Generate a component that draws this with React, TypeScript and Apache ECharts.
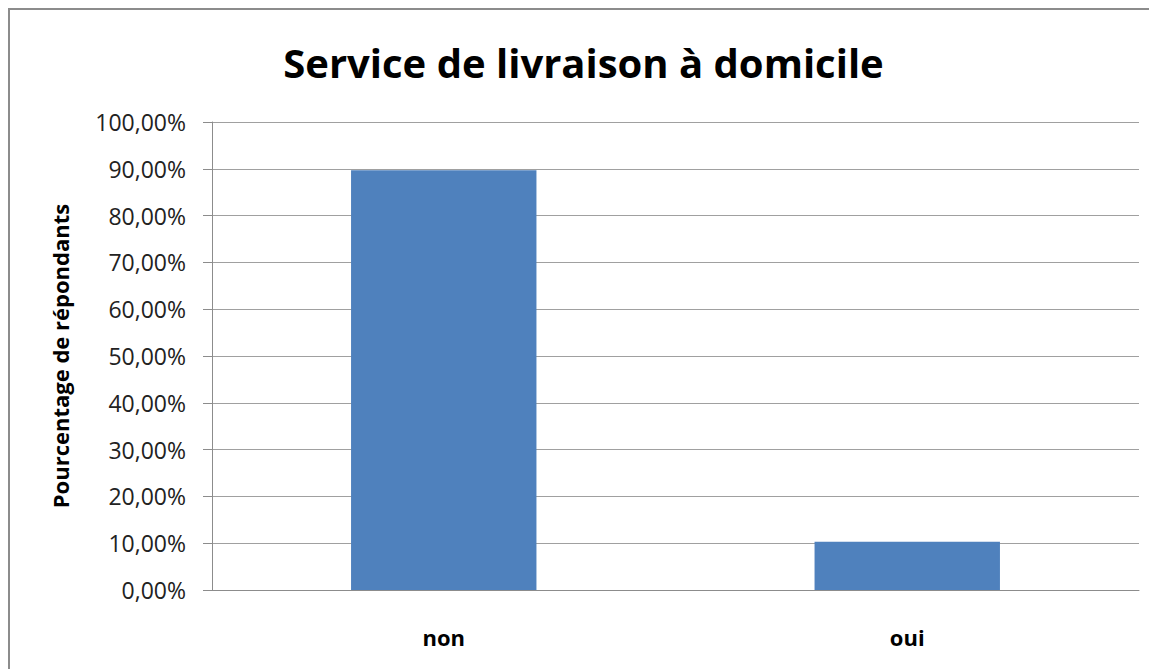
import React, { useEffect, useRef } from "react";
import * as echarts from "echarts";

const categories = ["non", "oui"];
const values = [89.7, 10.3];
const yTicks = { min: 0, max: 100, interval: 10 };
const titleText = "Service de livraison à domicile";
const yAxisName = "Pourcentage de répondants";

export default function App() {
  const ref = useRef<HTMLDivElement>(null);
  useEffect(() => {
    document.body.style.overflow = "hidden";
    const chart = echarts.init(ref.current!, null, { renderer: "svg" });
    const font = "Open Sans, Noto Sans, sans-serif";
    chart.setOption({
      animation: false,
      backgroundColor: "#ffffff",
      title: {
        text: titleText,
        left: "center",
        top: 27,
        textStyle: { fontFamily: font, fontSize: 40, fontWeight: "bold", color: "#000" },
      },
      grid: { left: 202, top: 112, right: 18, bottom: 79, containLabel: false },
      xAxis: {
        type: "category",
        data: categories,
        axisLine: { show: true, lineStyle: { color: "#8c8c8c", width: 1 } },
        axisTick: { show: false },
        axisLabel: { margin: 36, fontFamily: font, fontSize: 22, fontWeight: "bold", color: "#000" },
      },
      yAxis: {
        type: "value",
        min: yTicks.min,
        max: yTicks.max,
        interval: yTicks.interval,
        name: yAxisName,
        nameLocation: "middle",
        nameGap: 141,
        nameRotate: 90,
        nameTextStyle: { fontFamily: font, fontSize: 22, fontWeight: "bold", color: "#000" },
        axisLine: { show: true, lineStyle: { color: "#8c8c8c", width: 1 } },
        axisTick: { show: true, length: 9, lineStyle: { color: "#8c8c8c" } },
        splitLine: { show: true, lineStyle: { color: "#a0a0a0", width: 1 } },
        axisLabel: {
          margin: 26,
          fontFamily: font,
          fontSize: 23,
          color: "#222",
          formatter: (v: number) => v.toFixed(2).replace(".", ",") + "%",
        },
      },
      series: [
        {
          type: "bar",
          data: values,
          barCategoryGap: "60%",
          itemStyle: { color: "#4f81bd" },
        },
      ],
    });
    return () => chart.dispose();
  }, []);
  return (
    <div
      style={{
        width: 1149,
        height: 661,
        borderLeft: "2px solid #8c8c8c",
        borderTop: "2px solid #8c8c8c",
        boxSizing: "border-box",
      }}
    >
      <div ref={ref} style={{ width: 1147, height: 659 }} />
    </div>
  );
}
